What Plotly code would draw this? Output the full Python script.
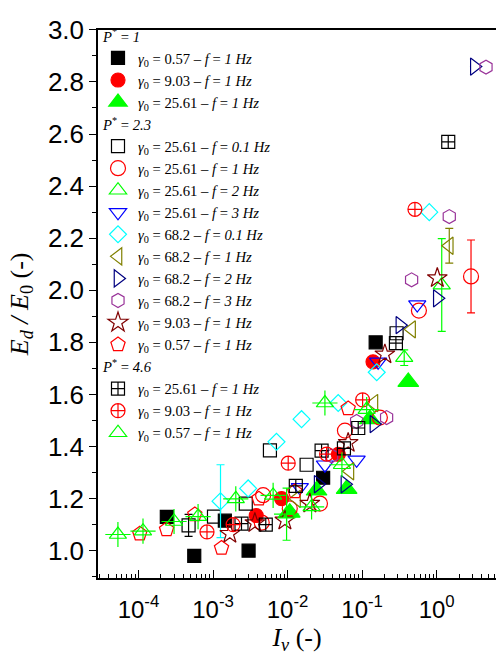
import plotly.graph_objects as go

# ---------------- data ----------------
# P* = 1
p1_057_x = [2.4e-4, 5.6e-4, 1.44e-3, 3.0e-3, 0.030, 0.152]
p1_057_y = [1.13, 0.98, 1.115, 1.00, 1.28, 1.80]

p1_903_x = [3.8e-3, 8.3e-3, 0.048, 0.140]
p1_903_y = [1.135, 1.20, 1.37, 1.725]

p1_2561_x = [0.0107, 0.0245, 0.062, 0.127, 0.416]
p1_2561_y = [1.146, 1.231, 1.237, 1.505, 1.648]

# P* = 2.3
p23_2561_01_x = [4.7e-4, 1.03e-3, 2.75e-3, 5.8e-3, 0.018, 0.29]
p23_2561_01_y = [1.097, 1.131, 1.181, 1.385, 1.33, 1.835]
p23_2561_01_err = {0: 0.042}

p23_2561_1_x = [4.5e-3, 4.7e-3, 0.0107, 0.0272, 0.0588, 0.173, 0.578, 2.89]
p23_2561_1_y = [1.108, 1.213, 1.162, 1.181, 1.461, 1.511, 1.922, 2.053]
p23_2561_1_err = {7: 0.14}

p23_2561_2_x = [0.367, 1.17]
p23_2561_2_y = [1.741, 2.02]
p23_2561_2_err = {0: 0.03, 1: 0.178}

p23_2561_3_x = [0.0146, 0.0317, 0.0844, 0.164, 0.549]
p23_2561_3_y = [1.243, 1.33, 1.349, 1.725, 1.945]

p23_682_01_x = [1.26e-3, 2.96e-3, 7.1e-3, 0.0154, 0.0478, 0.157, 0.796]
p23_682_01_y = [1.19, 1.239, 1.418, 1.505, 1.567, 1.685, 2.30]
p23_682_01_err = {0: 0.14}

p23_682_1_x = [0.0132, 0.0686, 0.144, 0.461, 1.476]
p23_682_1_y = [1.199, 1.305, 1.567, 1.85, 2.171]
p23_682_1_err = {4: 0.067}

p23_682_2_x = [0.0257, 0.0588, 0.144, 0.321, 1.02, 3.2]
p23_682_2_y = [1.255, 1.255, 1.486, 1.866, 1.969, 2.859]

p23_682_3_x = [0.039, 0.0844, 0.213, 0.461, 1.476, 4.59]
p23_682_3_y = [1.364, 1.496, 1.511, 2.04, 2.283, 2.857]

p23_903_x = [1.68e-3, 3.64e-3, 9.2e-3, 0.0199, 0.065, 0.202, 1.02]
p23_903_y = [1.065, 1.106, 1.116, 1.181, 1.414, 1.754, 2.047]

p23_057_x = [1.04e-4, 2.38e-4, 5.7e-4, 1.3e-3, 4.12e-3, 0.0125, 0.065]
p23_057_y = [1.065, 1.081, 1.139, 1.01, 1.199, 1.227, 1.546]

# P* = 4.6
p46_2561_x = [2.41e-3, 5.1e-3, 0.0129, 0.0286, 0.057, 0.0887, 0.284, 1.43]
p46_2561_y = [1.104, 1.10, 1.249, 1.384, 1.393, 1.471, 1.797, 2.57]

p46_903_x = [8.3e-4, 1.86e-3, 0.0102, 0.0334, 0.1016, 0.511]
p46_903_y = [1.072, 1.10, 1.336, 1.371, 1.579, 2.311]

p46_057_x = [5.3e-5, 1.15e-4, 3.0e-4, 6.3e-4, 2.02e-3, 6.4e-3, 9.7e-3, 0.021, 0.0317, 0.0536, 0.115]
p46_057_y = [1.062, 1.075, 1.112, 1.131, 1.199, 1.212, 1.14, 1.168, 1.567, 1.33, 1.542]
p46_057_err = {6: 0.1}

x_tickvals = [1e-4, 1e-3, 1e-2, 1e-1, 1]
x_ticktext = ["10<sup>-4</sup>", "10<sup>-3</sup>", "10<sup>-2</sup>", "10<sup>-1</sup>", "10<sup>0</sup>"]

# ---------------- styling ----------------
SERIF = "Liberation Serif"
SANS = "Liberation Sans"
LEG_FS = 14.65

def lab(g, f):
    return f"<i>γ</i><sub>0</sub> = {g} – <i>f</i> = <i>{f} Hz</i>"

def gtitle(p):
    return f"<i>P</i><sup>*</sup> = <i>{p}</i>"

series = [
    # x, y, err, name, group, symbol, color, size, group title
    (p1_057_x, p1_057_y, None, lab("0.57", "1"), "g1", "square", "#000000", 13, gtitle("1")),
    (p1_903_x, p1_903_y, None, lab("9.03", "1"), "g1", "circle", "#ff0000", 14, None),
    (p1_2561_x, p1_2561_y, None, lab("25.61", "1"), "g1", "triangle-up", "#00ff00", 18, None),
    (p23_2561_01_x, p23_2561_01_y, p23_2561_01_err, lab("25.61", "0.1"), "g2", "square-open", "#000000", 13, gtitle("2.3")),
    (p23_2561_1_x, p23_2561_1_y, p23_2561_1_err, lab("25.61", "1"), "g2", "circle-open", "#ff0000", 15, None),
    (p23_2561_2_x, p23_2561_2_y, p23_2561_2_err, lab("25.61", "2"), "g2", "triangle-up-open", "#00ff00", 15, None),
    (p23_2561_3_x, p23_2561_3_y, None, lab("25.61", "3"), "g2", "triangle-down-open", "#0000ff", 15, None),
    (p23_682_01_x, p23_682_01_y, p23_682_01_err, lab("68.2", "0.1"), "g2", "diamond-open", "#00ffff", 13, None),
    (p23_682_1_x, p23_682_1_y, p23_682_1_err, lab("68.2", "1"), "g2", "triangle-left-open", "#808000", 15, None),
    (p23_682_2_x, p23_682_2_y, None, lab("68.2", "2"), "g2", "triangle-right-open", "#000080", 15, None),
    (p23_682_3_x, p23_682_3_y, None, lab("68.2", "3"), "g2", "hexagon-open", "#993399", 14, None),
    (p23_903_x, p23_903_y, None, lab("9.03", "1"), "g2", "star-open", "#800000", 15, None),
    (p23_057_x, p23_057_y, None, lab("0.57", "1"), "g2", "pentagon-open", "#ff0000", 15, None),
    (p46_2561_x, p46_2561_y, None, lab("25.61", "1"), "g3", "square-cross-open", "#000000", 13, gtitle("4.6")),
    (p46_903_x, p46_903_y, None, lab("9.03", "1"), "g3", "circle-cross-open", "#ff0000", 14, None),
    (p46_057_x, p46_057_y, p46_057_err, lab("0.57", "1"), "g3", "triangle-up-open", "#00ff00", 15, None),
]

fig = go.Figure()

for x, y, err, name, grp, sym, col, size, gt in series:
    if err:
        idx = sorted(err)
        fig.add_trace(go.Scatter(
            x=[x[i] for i in idx], y=[y[i] for i in idx], mode="markers",
            marker=dict(size=1, opacity=0, color=col),
            error_y=dict(type="data", array=[err[i] for i in idx], color=col,
                         thickness=1.2, width=4),
            showlegend=False, legendgroup=grp, hoverinfo="skip"))
    kw = {}
    if gt:
        kw["legendgrouptitle"] = dict(text=gt, font=dict(family=SERIF, size=LEG_FS, color="black"))
    fig.add_trace(go.Scatter(
        x=x, y=y, mode="markers", name=name, legendgroup=grp,
        marker=dict(symbol=sym, size=size, color=col, line=dict(color=col, width=1.2)),
        **kw))
    if grp == "g3" and sym == "triangle-up-open":
        # the cross part of the crossed triangle symbol
        fig.add_trace(go.Scatter(
            x=x, y=y, mode="markers", showlegend=False, legendgroup=grp,
            marker=dict(symbol="cross-thin-open", size=18, color=col,
                        line=dict(color=col, width=1.2))))

minor_vals = [k * 10.0 ** e for e in range(-5, 1) for k in range(2, 10)]

fig.update_layout(
    width=496, height=657,
    margin=dict(l=98, r=0, t=0, b=79),
    paper_bgcolor="white", plot_bgcolor="white",
    showlegend=True,
    legend=dict(x=0.0, y=0.9913, xanchor="left", yanchor="top",
                bgcolor="rgba(0,0,0,0)", borderwidth=0,
                font=dict(family=SERIF, size=LEG_FS, color="black"),
                tracegroupgap=0, traceorder="grouped", itemsizing="trace"),
    xaxis=dict(type="log", range=[-4.543, 0.796],
               tickmode="array", tickvals=x_tickvals, ticktext=x_ticktext,
               ticks="inside", ticklen=8, tickwidth=1.2, tickcolor="black",
               ticklabelstandoff=9,
               minor=dict(tickmode="array", tickvals=minor_vals, ticks="inside",
                          ticklen=4, tickwidth=1, tickcolor="black", showgrid=False),
               showline=True, linecolor="black", linewidth=1.5, mirror=True,
               showgrid=False, zeroline=False,
               tickfont=dict(family=SANS, size=24, color="black"),
               title=dict(text="<i>I</i><sub><i>v</i></sub> (-)", standoff=6,
                          font=dict(family=SERIF, size=26, color="black"))),
    yaxis=dict(domain=[0, 0.97405], range=[0.895, 3.001], tick0=1.0, dtick=0.2,
               tickformat=".1f", ticklabeloverflow="allow",
               ticks="outside", ticklen=7, tickwidth=1.2, tickcolor="black",
               minor=dict(dtick=0.1, ticks="outside", ticklen=4, tickwidth=1,
                          tickcolor="black", showgrid=False),
               showline=True, linecolor="black", linewidth=1.5,
               showgrid=False, zeroline=False,
               tickfont=dict(family=SANS, size=26, color="black"),
               title=dict(text="<i>E</i><sub><i>d</i></sub><i> / E</i><sub>0</sub> (-)",
                          standoff=12, font=dict(family=SERIF, size=26, color="black"))),
)

# remove the default 8px page margin so the figure fills the window exactly
fig.write_html("out.html", config={"displayModeBar": False},
               post_script="document.body.style.margin='0';")
